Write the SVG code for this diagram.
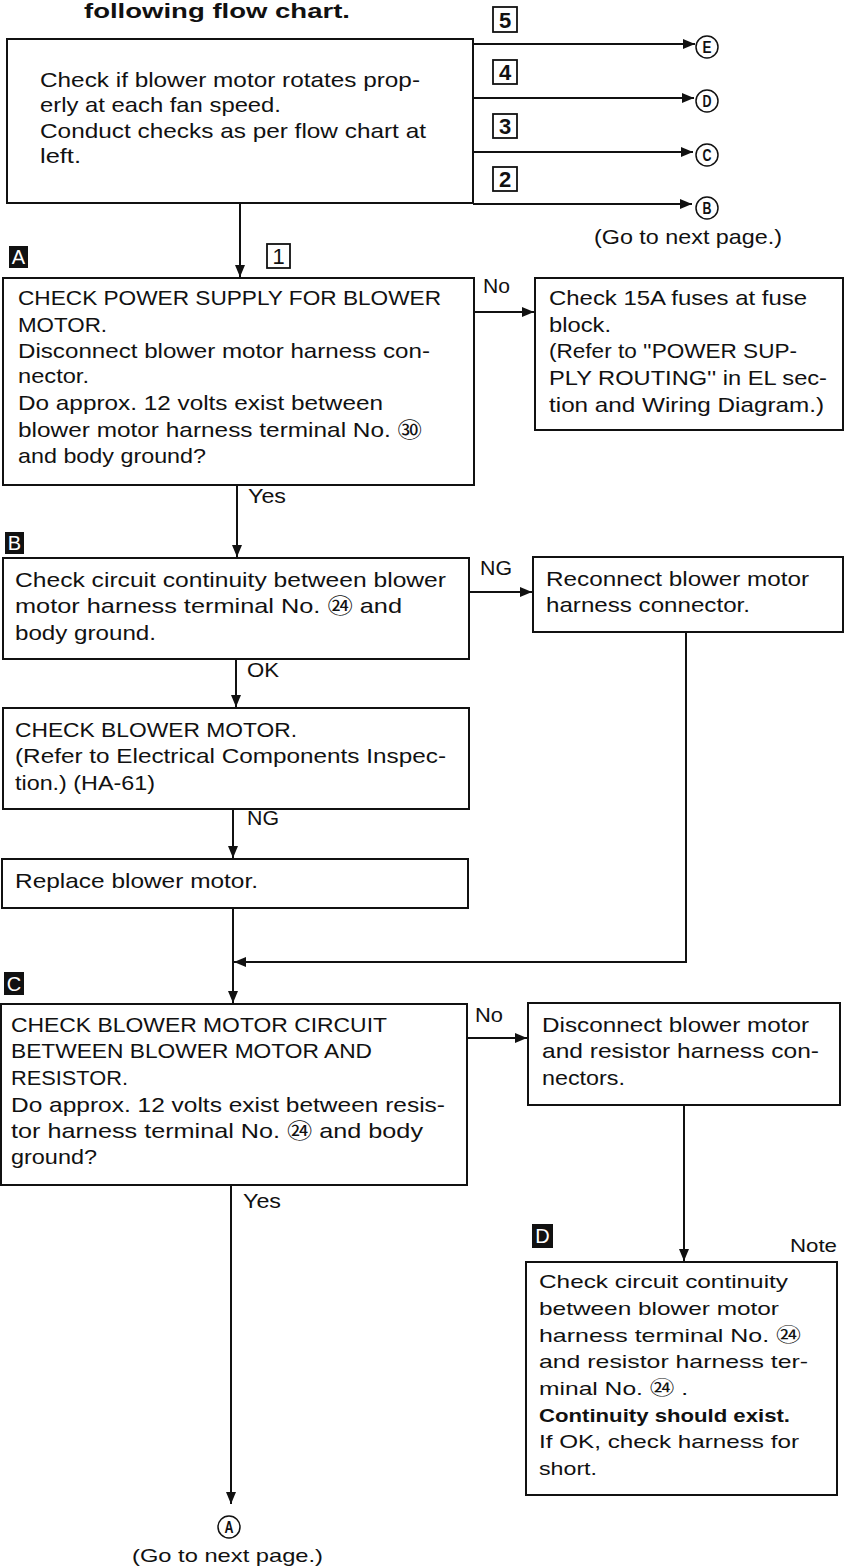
<svg xmlns="http://www.w3.org/2000/svg" width="845" height="1568" viewBox="0 0 845 1568">
<style>
  .bx{fill:#fff;stroke:#111;stroke-width:2}
  .t{font-family:"Liberation Sans",Arial,"Noto Sans CJK JP",sans-serif;font-size:21px;fill:#111}
  .d{font-family:"Liberation Sans",Arial,"Noto Sans CJK JP",sans-serif;font-size:19px;fill:#111}
  .lb{font-family:"Liberation Sans",Arial,sans-serif;font-size:21px;fill:#111}
  .ttl{font-family:"Liberation Sans",Arial,sans-serif;font-size:21px;font-weight:bold;fill:#111}
  .num{fill:#fff;stroke:#111;stroke-width:1.8}
  .numt{font-family:"Liberation Sans",Arial,sans-serif;font-size:22px;font-weight:bold;fill:#111;text-anchor:middle}
  .numr{font-family:"Liberation Sans",Arial,sans-serif;font-size:22px;font-weight:normal;fill:#111;text-anchor:middle}
  .blk{fill:#111}
  .blkt{font-family:"Liberation Sans",Arial,sans-serif;font-size:20px;fill:#fff;text-anchor:middle}
  .circ{fill:#fff;stroke:#111;stroke-width:1.5}
  .ct{font-family:"Liberation Sans",Arial,sans-serif;font-size:16px;font-weight:bold;fill:#111;text-anchor:middle}
  .ln{fill:none;stroke:#111;stroke-width:2}
</style>
<defs>
  <marker id="ah" markerUnits="userSpaceOnUse" markerWidth="12" markerHeight="10" refX="12" refY="5" orient="auto">
    <path d="M0,0 L12,5 L0,10 z" fill="#111"/>
  </marker>
</defs>
<rect width="845" height="1568" fill="#fff"/>

<text class="ttl" x="84" y="18" textLength="266" lengthAdjust="spacingAndGlyphs">following flow chart.</text>

<g id="connectors">
  <path class="ln" d="M240,203 V277" marker-end="url(#ah)"/>
  <path class="ln" d="M473,44 H695" marker-end="url(#ah)"/>
  <path class="ln" d="M473,98 H694" marker-end="url(#ah)"/>
  <path class="ln" d="M473,152 H693" marker-end="url(#ah)"/>
  <path class="ln" d="M473,204 H692" marker-end="url(#ah)"/>
  <path class="ln" d="M474,312 H534" marker-end="url(#ah)"/>
  <path class="ln" d="M237,485 V557" marker-end="url(#ah)"/>
  <path class="ln" d="M469,592 H532" marker-end="url(#ah)"/>
  <path class="ln" d="M236,659 V707" marker-end="url(#ah)"/>
  <path class="ln" d="M233,809 V858" marker-end="url(#ah)"/>
  <path class="ln" d="M233,908 V1003" marker-end="url(#ah)"/>
  <path class="ln" d="M686,632 V962 H234" marker-end="url(#ah)"/>
  <path class="ln" d="M467,1038 H527" marker-end="url(#ah)"/>
  <path class="ln" d="M231,1185 V1504" marker-end="url(#ah)"/>
  <path class="ln" d="M684,1105 V1261" marker-end="url(#ah)"/>
  <text class="lb" x="483" y="293" textLength="27" lengthAdjust="spacingAndGlyphs">No</text>
  <text class="lb" x="248" y="503" textLength="38" lengthAdjust="spacingAndGlyphs">Yes</text>
  <text class="lb" x="480" y="575" textLength="32" lengthAdjust="spacingAndGlyphs">NG</text>
  <text class="lb" x="247" y="677" textLength="32" lengthAdjust="spacingAndGlyphs">OK</text>
  <text class="lb" x="247" y="825" textLength="32" lengthAdjust="spacingAndGlyphs">NG</text>
  <text class="lb" x="475" y="1022" textLength="28" lengthAdjust="spacingAndGlyphs">No</text>
  <text class="lb" x="243" y="1208" textLength="38" lengthAdjust="spacingAndGlyphs">Yes</text>
</g>

<g id="tags">
  <rect class="num" x="493" y="7" width="24" height="25"/><text class="numt" x="505" y="28">5</text>
  <rect class="num" x="493" y="60" width="24" height="24"/><text class="numt" x="505" y="80">4</text>
  <rect class="num" x="493" y="114" width="24" height="24"/><text class="numt" x="505" y="134">3</text>
  <rect class="num" x="493" y="167" width="24" height="24"/><text class="numt" x="505" y="187">2</text>
  <rect class="num" x="267" y="244" width="23" height="24"/><text class="numr" x="278.5" y="264">1</text>
</g>

<g id="offpage-E"><circle class="circ" cx="707" cy="47" r="11"/><text class="ct" x="707" y="53" textLength="9" lengthAdjust="spacingAndGlyphs">E</text></g>
<g id="offpage-D"><circle class="circ" cx="707" cy="101" r="11"/><text class="ct" x="707" y="107" textLength="9" lengthAdjust="spacingAndGlyphs">D</text></g>
<g id="offpage-C"><circle class="circ" cx="707" cy="155" r="11"/><text class="ct" x="707" y="161" textLength="9" lengthAdjust="spacingAndGlyphs">C</text></g>
<g id="offpage-B"><circle class="circ" cx="707" cy="208" r="11"/><text class="ct" x="707" y="214" textLength="9" lengthAdjust="spacingAndGlyphs">B</text>
  <text class="t" x="594" y="244" textLength="188" lengthAdjust="spacingAndGlyphs">(Go to next page.)</text></g>

<g id="start">
  <rect class="bx" x="7" y="39" width="466" height="164"/>
  <text class="t" x="40" y="87" textLength="380" lengthAdjust="spacingAndGlyphs">Check if blower motor rotates prop-</text>
  <text class="t" x="40" y="112" textLength="241" lengthAdjust="spacingAndGlyphs">erly at each fan speed.</text>
  <text class="t" x="40" y="138" textLength="386" lengthAdjust="spacingAndGlyphs">Conduct checks as per flow chart at</text>
  <text class="t" x="40" y="163" textLength="41" lengthAdjust="spacingAndGlyphs">left.</text>
</g>

<g id="step-A">
  <rect class="blk" x="9" y="246" width="19" height="22"/><text class="blkt" x="18.5" y="264">A</text>
  <rect class="bx" x="3" y="278" width="471" height="207"/>
  <text class="t" x="18" y="305" textLength="423" lengthAdjust="spacingAndGlyphs">CHECK POWER SUPPLY FOR BLOWER</text>
  <text class="t" x="18" y="332" textLength="89" lengthAdjust="spacingAndGlyphs">MOTOR.</text>
  <text class="t" x="18" y="358" textLength="412" lengthAdjust="spacingAndGlyphs">Disconnect blower motor harness con-</text>
  <text class="t" x="18" y="383" textLength="71" lengthAdjust="spacingAndGlyphs">nector.</text>
  <text class="t" x="18" y="410" textLength="365" lengthAdjust="spacingAndGlyphs">Do approx. 12 volts exist between</text>
  <text class="t" x="18" y="437" textLength="404" lengthAdjust="spacingAndGlyphs">blower motor harness terminal No. ㉚</text>
  <text class="t" x="18" y="463" textLength="188" lengthAdjust="spacingAndGlyphs">and body ground?</text>
</g>

<g id="fuses">
  <rect class="bx" x="535" y="278" width="308" height="152"/>
  <text class="t" x="549" y="305" textLength="258" lengthAdjust="spacingAndGlyphs">Check 15A fuses at fuse</text>
  <text class="t" x="549" y="332" textLength="62" lengthAdjust="spacingAndGlyphs">block.</text>
  <text class="t" x="549" y="358" textLength="248" lengthAdjust="spacingAndGlyphs">(Refer to ''POWER SUP-</text>
  <text class="t" x="549" y="385" textLength="278" lengthAdjust="spacingAndGlyphs">PLY ROUTING'' in EL sec-</text>
  <text class="t" x="549" y="412" textLength="275" lengthAdjust="spacingAndGlyphs">tion and Wiring Diagram.)</text>
</g>

<g id="step-B">
  <rect class="blk" x="5" y="532" width="19" height="22"/><text class="blkt" x="14.5" y="550">B</text>
  <rect class="bx" x="3" y="558" width="466" height="101"/>
  <text class="t" x="15" y="587" textLength="431" lengthAdjust="spacingAndGlyphs">Check circuit continuity between blower</text>
  <text class="t" x="15" y="613" textLength="387" lengthAdjust="spacingAndGlyphs">motor harness terminal No. ㉔ and</text>
  <text class="t" x="15" y="640" textLength="141" lengthAdjust="spacingAndGlyphs">body ground.</text>
</g>

<g id="reconnect">
  <rect class="bx" x="533" y="557" width="310" height="75"/>
  <text class="t" x="546" y="586" textLength="263" lengthAdjust="spacingAndGlyphs">Reconnect blower motor</text>
  <text class="t" x="546" y="612" textLength="204" lengthAdjust="spacingAndGlyphs">harness connector.</text>
</g>

<g id="check-motor">
  <rect class="bx" x="3" y="708" width="466" height="101"/>
  <text class="t" x="15" y="737" textLength="282" lengthAdjust="spacingAndGlyphs">CHECK BLOWER MOTOR.</text>
  <text class="t" x="15" y="763" textLength="431" lengthAdjust="spacingAndGlyphs">(Refer to Electrical Components Inspec-</text>
  <text class="t" x="15" y="790" textLength="140" lengthAdjust="spacingAndGlyphs">tion.) (HA-61)</text>
</g>

<g id="replace">
  <rect class="bx" x="2" y="859" width="466" height="49"/>
  <text class="t" x="15" y="888" textLength="243" lengthAdjust="spacingAndGlyphs">Replace blower motor.</text>
</g>

<g id="step-C">
  <rect class="blk" x="4" y="972" width="20" height="23"/><text class="blkt" x="14" y="991">C</text>
  <rect class="bx" x="1" y="1004" width="466" height="181"/>
  <text class="t" x="11" y="1032" textLength="376" lengthAdjust="spacingAndGlyphs">CHECK BLOWER MOTOR CIRCUIT</text>
  <text class="t" x="11" y="1058" textLength="361" lengthAdjust="spacingAndGlyphs">BETWEEN BLOWER MOTOR AND</text>
  <text class="t" x="11" y="1085" textLength="117" lengthAdjust="spacingAndGlyphs">RESISTOR.</text>
  <text class="t" x="11" y="1112" textLength="434" lengthAdjust="spacingAndGlyphs">Do approx. 12 volts exist between resis-</text>
  <text class="t" x="11" y="1138" textLength="412" lengthAdjust="spacingAndGlyphs">tor harness terminal No. ㉔ and body</text>
  <text class="t" x="11" y="1164" textLength="86" lengthAdjust="spacingAndGlyphs">ground?</text>
</g>

<g id="disconnect">
  <rect class="bx" x="528" y="1003" width="312" height="102"/>
  <text class="t" x="542" y="1032" textLength="267" lengthAdjust="spacingAndGlyphs">Disconnect blower motor</text>
  <text class="t" x="542" y="1058" textLength="277" lengthAdjust="spacingAndGlyphs">and resistor harness con-</text>
  <text class="t" x="542" y="1085" textLength="83" lengthAdjust="spacingAndGlyphs">nectors.</text>
</g>

<g id="step-D">
  <rect class="blk" x="532" y="1224" width="21" height="24"/><text class="blkt" x="542.5" y="1243">D</text>
  <text class="d" x="790" y="1252" textLength="47" lengthAdjust="spacingAndGlyphs">Note</text>
  <rect class="bx" x="526" y="1262" width="311" height="233"/>
  <text class="d" x="539" y="1288" textLength="249" lengthAdjust="spacingAndGlyphs">Check circuit continuity</text>
  <text class="d" x="539" y="1315" textLength="240" lengthAdjust="spacingAndGlyphs">between blower motor</text>
  <text class="d" x="539" y="1342" textLength="262" lengthAdjust="spacingAndGlyphs">harness terminal No. ㉔</text>
  <text class="d" x="539" y="1368" textLength="269" lengthAdjust="spacingAndGlyphs">and resistor harness ter-</text>
  <text class="d" x="539" y="1395" textLength="149" lengthAdjust="spacingAndGlyphs">minal No. ㉔ .</text>
  <text class="d" x="539" y="1422" textLength="251" lengthAdjust="spacingAndGlyphs" style="font-weight:bold">Continuity should exist.</text>
  <text class="d" x="539" y="1448" textLength="260" lengthAdjust="spacingAndGlyphs">If OK, check harness for</text>
  <text class="d" x="539" y="1475" textLength="58" lengthAdjust="spacingAndGlyphs">short.</text>
</g>

<g id="offpage-A">
  <circle class="circ" cx="229" cy="1527" r="11"/><text class="ct" x="229" y="1533" textLength="9" lengthAdjust="spacingAndGlyphs">A</text>
  <text class="d" x="132" y="1562" textLength="191" lengthAdjust="spacingAndGlyphs">(Go to next page.)</text>
</g>
</svg>
